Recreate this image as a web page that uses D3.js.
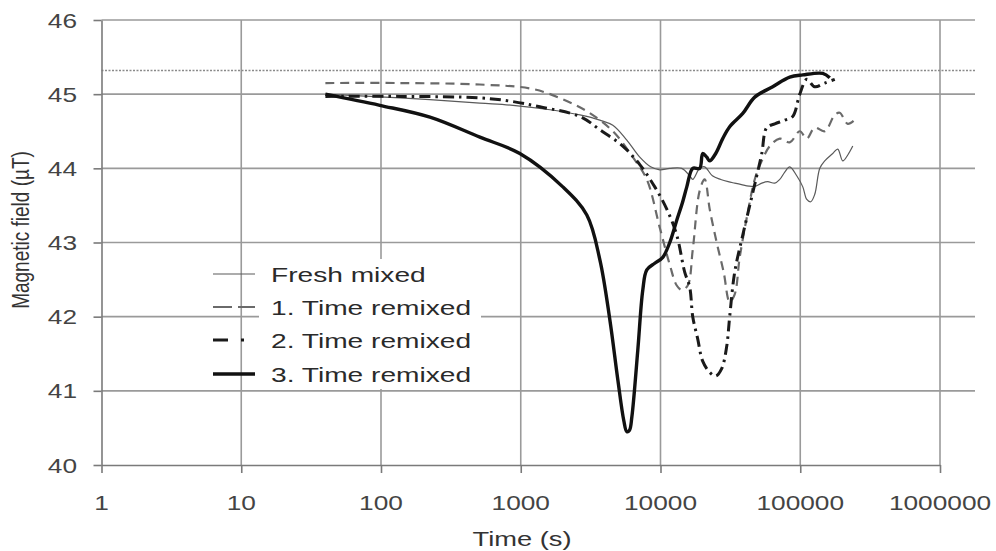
<!DOCTYPE html>
<html>
<head>
<meta charset="utf-8">
<script src="https://cdn.jsdelivr.net/npm/d3@7"></script>
<style>
  html, body { margin: 0; padding: 0; background: #fff; }
  svg { display: block; }
  text { font-family: "Liberation Sans", Arial, sans-serif; }
</style>
</head>
<body>
<svg id="chart" width="996" height="551"></svg>
<script>
// Axis ticks
const xTicks = [1, 10, 100, 1000, 10000, 100000, 1000000];
const yTicks = [40, 41, 42, 43, 44, 45, 46];
const referenceLevel = 45.32;

// Series: time (s) and magnetic field (µT)
const freshTime = [40, 137, 510, 880, 1620, 2650, 3680, 4560, 5740, 7110, 8500, 9880, 11650, 14190, 16180, 17010, 19080, 20710, 23500, 27000, 30500, 33960, 38000, 43000, 48000, 53060, 58500, 65730, 71340, 77470, 84100, 94370, 104300, 111400, 118900, 127000, 138000, 149700, 170900, 185500, 201500, 218800, 237600];
const freshField = [45.0, 44.95, 44.88, 44.85, 44.79, 44.72, 44.65, 44.58, 44.38, 44.15, 44.02, 43.98, 44.0, 44.0, 43.9, 43.85, 44.0, 44.02, 43.9, 43.85, 43.82, 43.8, 43.78, 43.76, 43.76, 43.8, 43.82, 43.8, 43.85, 43.95, 44.02, 43.9, 43.75, 43.58, 43.55, 43.65, 44.0, 44.1, 44.2, 44.26, 44.1, 44.18, 44.3];

const remix1Time = [40, 137, 510, 1220, 2000, 2970, 4560, 6340, 7980, 9880, 11650, 13070, 14190, 15660, 17010, 19080, 20710, 22490, 25240, 28320, 31260, 33960, 36880, 42080, 47230, 53060, 60520, 71340, 84100, 99260, 111400, 127000, 149700, 176600, 191700, 218800, 253700];
const remix1Field = [45.15, 45.15, 45.13, 45.07, 44.93, 44.77, 44.5, 44.15, 43.85, 43.2, 42.7, 42.42, 42.36, 42.42, 42.9, 43.7, 43.85, 43.45, 43.0, 42.6, 42.2, 42.3, 42.8, 43.4, 43.85, 44.1, 44.3, 44.4, 44.35, 44.5, 44.4, 44.55, 44.5, 44.72, 44.75, 44.6, 44.68];

const remix2Time = [40, 137, 510, 880, 1370, 2650, 3680, 5370, 7110, 9100, 11090, 13070, 14900, 16180, 17010, 18460, 20040, 22490, 24830, 27400, 29770, 31260, 33960, 38790, 43520, 48840, 53060, 57570, 65730, 77470, 88320, 99260, 111400, 127000, 149700, 176600];
const remix2Field = [44.97, 44.97, 44.95, 44.9, 44.83, 44.7, 44.52, 44.3, 44.05, 43.75, 43.45, 43.1, 42.6, 42.4, 42.0, 41.7, 41.4, 41.25, 41.2, 41.3, 41.6, 42.0, 42.6, 43.1, 43.5, 43.9, 44.2, 44.55, 44.6, 44.65, 44.7, 45.0, 45.2, 45.1, 45.15, 45.2];

const remix3Time = [40, 98, 224, 510, 985, 2000, 2970, 3680, 4340, 4950, 5460, 5740, 6000, 6240, 6880, 7470, 7980, 9100, 10380, 11650, 13070, 14420, 15420, 17010, 19080, 20040, 21430, 22490, 24830, 27870, 31260, 38790, 47230, 63530, 84100, 104300, 144900, 162600];
const remix3Field = [45.0, 44.85, 44.69, 44.42, 44.2, 43.75, 43.37, 42.77, 41.96, 41.15, 40.6, 40.45, 40.47, 40.65, 41.55, 42.36, 42.63, 42.72, 42.8, 43.0, 43.3, 43.55, 43.75, 44.0, 44.0, 44.2, 44.15, 44.1, 44.2, 44.4, 44.56, 44.74, 44.96, 45.1, 45.23, 45.26, 45.28, 45.22];

const seriesNames = ["Fresh mixed", "1. Time remixed", "2. Time remixed", "3. Time remixed"];

const svg = d3.select("#chart");
const plotLeft = 101.5, plotRight = 940, plotTop = 20, plotBottom = 465, gridEnd = 975;
const x = d3.scaleLog().domain([1, 1000000]).range([plotLeft, plotRight]);
const y = d3.scaleLinear().domain([40, 46]).range([plotBottom, plotTop]);

// Text is drawn wide: glyphs stretched horizontally
function stretchedText(g, px, py, str, opts) {
  return g.append("text")
    .attr("transform", `translate(${px},${py}) scale(${opts.sx || 1.25},1)`)
    .attr("text-anchor", opts.anchor || "start")
    .attr("font-size", opts.size || 21)
    .attr("fill", opts.fill || "#444")
    .attr("dy", opts.dy || 0)
    .text(str);
}

// Grid
const grid = svg.append("g");
grid.selectAll("line.h").data(yTicks.filter(d => d > 40)).join("line")
  .attr("x1", plotLeft).attr("x2", gridEnd)
  .attr("y1", d => y(d)).attr("y2", d => y(d))
  .attr("stroke", "#9a9a9a").attr("stroke-width", 1.6);
grid.selectAll("line.v").data(xTicks.filter(d => d > 1)).join("line")
  .attr("x1", d => x(d)).attr("x2", d => x(d))
  .attr("y1", plotTop).attr("y2", plotBottom)
  .attr("stroke", "#9a9a9a").attr("stroke-width", 1.6);
grid.append("line")
  .attr("x1", plotLeft).attr("x2", gridEnd)
  .attr("y1", y(referenceLevel)).attr("y2", y(referenceLevel))
  .attr("stroke", "#8a8a8a").attr("stroke-width", 1.4)
  .attr("stroke-dasharray", "2,1.5");

// Axes
const yAxis = svg.append("g").attr("transform", `translate(${plotLeft},0)`)
  .call(d3.axisLeft(y).tickValues(yTicks).tickSize(8).tickSizeOuter(0).tickFormat(""));
const xAxis = svg.append("g").attr("transform", `translate(0,${plotBottom})`)
  .call(d3.axisBottom(x).tickValues(xTicks).tickSize(8).tickSizeOuter(0).tickFormat(""));
[yAxis, xAxis].forEach(a => {
  a.selectAll("path, line").attr("stroke", "#7a7a7a").attr("stroke-width", 1.6);
});

// Tick labels
const labels = svg.append("g");
yTicks.forEach(v => stretchedText(labels, 77, y(v), String(v), { anchor: "end", dy: "0.36em" }));
xTicks.forEach(v => stretchedText(labels, x(v), 510, String(v), { anchor: "middle" }));

// Axis titles
stretchedText(labels, 522, 546, "Time (s)", { anchor: "middle", fill: "#333", sx: 1.3 });
svg.append("text")
  .attr("transform", "translate(29,230) scale(1.25,1) rotate(-90)")
  .attr("text-anchor", "middle")
  .attr("font-size", 19)
  .attr("fill", "#333")
  .text("Magnetic field (µT)");

// Curves
const line = d3.line().x(d => x(d[0])).y(d => y(d[1])).curve(d3.curveCatmullRom.alpha(0.5));
const zip = (t, v) => t.map((d, i) => [d, v[i]]);
const styles = [
  { data: zip(freshTime, freshField), stroke: "#5a5a5a", width: 1.2, dash: null },
  { data: zip(remix1Time, remix1Field), stroke: "#6a6a6a", width: 2.2, dash: "9,6" },
  { data: zip(remix2Time, remix2Field), stroke: "#1a1a1a", width: 3, dash: "11,5,2.5,5" },
  { data: zip(remix3Time, remix3Field), stroke: "#111", width: 3.4, dash: null }
];
const curves = svg.append("g").attr("fill", "none");
curves.selectAll("path").data(styles).join("path")
  .attr("d", d => line(d.data))
  .attr("stroke", d => d.stroke)
  .attr("stroke-width", d => d.width)
  .attr("stroke-dasharray", d => d.dash)
  .attr("stroke-linejoin", "round");

// Legend
const legend = svg.append("g");
legend.append("rect").attr("x", 259).attr("y", 259).attr("width", 222).attr("height", 130).attr("fill", "#fff");
const rowY = [274, 307, 340, 374];
const sampleDash = [null, "19,6", "15,13,3,20", null];
seriesNames.forEach((name, i) => {
  legend.append("line")
    .attr("x1", 213).attr("x2", 255)
    .attr("y1", rowY[i]).attr("y2", rowY[i])
    .attr("stroke", styles[i].stroke)
    .attr("stroke-width", styles[i].width)
    .attr("stroke-dasharray", sampleDash[i]);
  stretchedText(legend, 271, rowY[i], name, { size: 21, sx: 1.34, fill: "#2a2a2a", dy: "0.36em" });
});
</script>
</body>
</html>
